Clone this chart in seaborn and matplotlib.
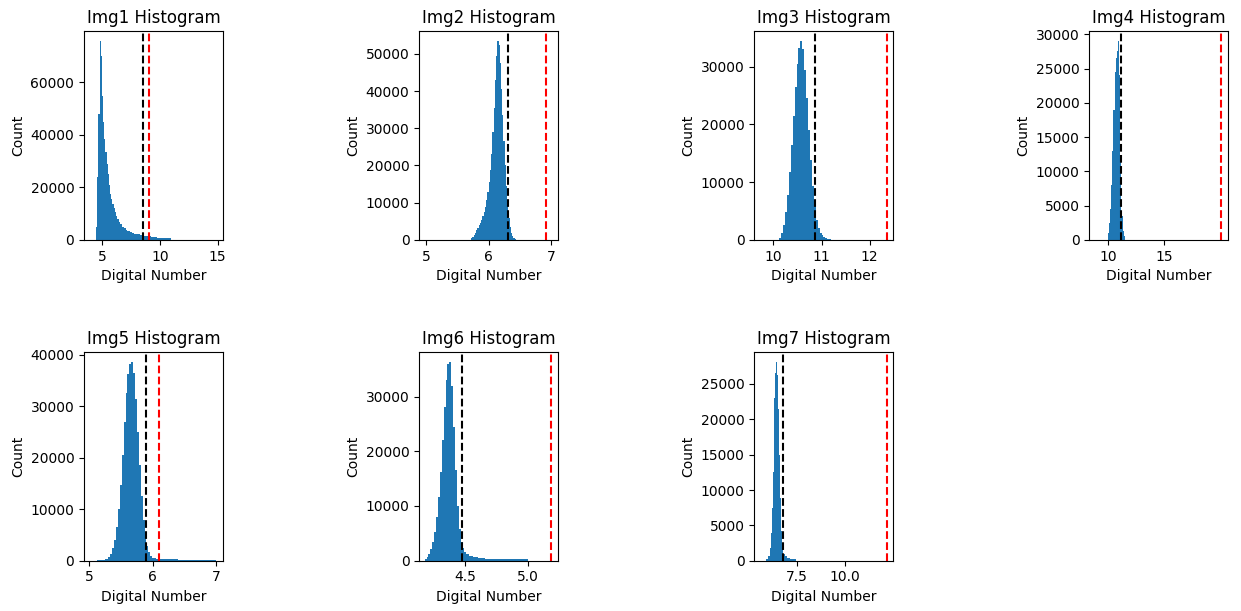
import numpy as np
import pandas as pd
import matplotlib
matplotlib.use("Agg")
import matplotlib.pyplot as plt
import seaborn as sns

# ---- histogram data: bin edges and pixel counts per image ----
img1_edges = [4.50, 4.60, 4.70, 4.80, 4.90, 5.00, 5.10, 5.20, 5.30, 5.40, 5.50,
              5.60, 5.70, 5.80, 5.90, 6.00, 6.10, 6.20, 6.30, 6.45, 6.60, 6.75,
              6.90, 7.05, 7.20, 7.40, 7.60, 7.80, 8.00, 8.30, 8.60, 8.90, 9.20,
              9.50, 9.80, 10.10, 10.40, 10.70, 11.00]
img1_counts = [5000, 24000, 48000, 75700, 70000, 55000, 45000, 38500, 33500, 29000,
               25000, 21000, 17500, 15500, 13500, 12000, 10500, 9200, 8000, 6800,
               5900, 5000, 4400, 3900, 3500, 3100, 2700, 2400, 2200, 1900,
               1650, 1400, 1200, 950, 800, 650, 600, 550]

img2_edges = [5.72, 5.74, 5.76, 5.78, 5.80, 5.82, 5.84, 5.86, 5.88, 5.90, 5.92,
              5.94, 5.96, 5.98, 6.00, 6.02, 6.04, 6.06, 6.08, 6.10, 6.12, 6.14,
              6.16, 6.18, 6.20, 6.22, 6.24, 6.26, 6.28, 6.30, 6.32, 6.34, 6.36,
              6.38, 6.40, 6.42, 6.44]
img2_counts = [400, 800, 1300, 1900, 2600, 3200, 3900, 4600, 5400, 6400,
               7500, 8900, 10600, 12800, 15500, 18800, 23000, 29000, 35500, 43000,
               49500, 53400, 52500, 47500, 40500, 33500, 26500, 20000, 14500, 9800,
               6000, 3500, 1900, 1000, 500, 200]

img3_edges = [10.12, 10.16, 10.20, 10.24, 10.28, 10.32, 10.36, 10.40, 10.44, 10.48,
              10.52, 10.56, 10.60, 10.64, 10.68, 10.72, 10.76, 10.80, 10.84, 10.88,
              10.92, 10.96, 11.00, 11.04, 11.08, 11.12, 11.16, 11.20]
img3_counts = [400, 1200, 2600, 4800, 7800, 11800, 16500, 21500, 26500, 30500,
               33300, 34400, 33000, 29500, 24500, 19000, 13800, 9300, 5800, 3500,
               2000, 1200, 800, 500, 300, 150, 80]

img4_edges = [10.0, 10.1, 10.2, 10.3, 10.4, 10.5, 10.6, 10.7, 10.8, 10.9,
              11.0, 11.1, 11.2, 11.3, 11.4, 11.5]
img4_counts = [1000, 2500, 4500, 8000, 13000, 19000, 24500, 26500, 27500, 29000,
               24000, 12000, 3500, 1300, 600]

img5_edges = [5.12, 5.24, 5.30, 5.33, 5.36, 5.39, 5.42, 5.45, 5.48, 5.51, 5.54,
              5.57, 5.60, 5.63, 5.66, 5.69, 5.72, 5.75, 5.78, 5.81, 5.84, 5.87,
              5.90, 5.93, 5.96, 5.99, 6.05, 6.15, 6.40, 6.70, 7.00]
img5_counts = [150, 350, 700, 1300, 2400, 4000, 6500, 10000, 14800, 20500,
               27000, 32500, 36300, 38300, 38600, 36500, 31500, 25000, 18500, 12500,
               8000, 5000, 2900, 1700, 1000, 600, 350, 250, 220, 200]

img6_edges = [4.180, 4.195, 4.210, 4.225, 4.240, 4.255, 4.270, 4.285, 4.300, 4.315,
              4.330, 4.345, 4.360, 4.375, 4.390, 4.405, 4.420, 4.435, 4.450, 4.465,
              4.480, 4.495, 4.510, 4.530, 4.560, 4.600, 4.660, 4.740, 4.840, 5.000]
img6_counts = [250, 600, 1200, 2100, 3400, 5300, 8000, 11600, 16300, 22000,
               28000, 33000, 36000, 36300, 32000, 24500, 16500, 10000, 5800, 3500,
               2300, 1600, 1150, 800, 620, 450, 330, 260, 240]

img7_edges = [5.90, 6.00, 6.10, 6.15, 6.20, 6.25, 6.30, 6.35, 6.40, 6.45, 6.50,
              6.55, 6.60, 6.65, 6.70, 6.75, 6.80, 6.90, 7.00, 7.15, 7.30, 7.45]
img7_counts = [250, 700, 1800, 3900, 7500, 12500, 18000, 23000, 26500, 28100,
               26300, 21500, 15000, 8800, 4200, 2000, 1000, 650, 450, 300, 180]

# reference lines (black and red dashed) per image
black_lines = [8.52, 6.315, 10.87, 11.12, 5.895, 4.478, 6.78]
red_lines = [9.07, 6.92, 12.35, 20.03, 6.105, 5.183, 12.16]

# axis ranges and tick positions per image
x_limits = [(3.45, 15.47), (4.887, 7.117), (9.604, 12.49), (8.38, 20.65),
            (4.916, 7.106), (4.136, 5.239), (5.307, 12.50)]
x_ticks = [[5, 10, 15], [5, 6, 7], [10, 11, 12], [10, 15],
           [5, 6, 7], [4.5, 5.0], [7.5, 10.0]]

titles = ["Img1 Histogram", "Img2 Histogram", "Img3 Histogram", "Img4 Histogram",
          "Img5 Histogram", "Img6 Histogram", "Img7 Histogram"]

all_edges = [img1_edges, img2_edges, img3_edges, img4_edges,
             img5_edges, img6_edges, img7_edges]
all_counts = [img1_counts, img2_counts, img3_counts, img4_counts,
              img5_counts, img6_counts, img7_counts]

fig, axes = plt.subplots(2, 4, figsize=(12.41, 6.11), dpi=100)
fig.subplots_adjust(left=0.0677, right=0.9899, top=0.9488, bottom=0.0823,
                    wspace=1.4115, hspace=0.538)

for i, ax in enumerate(axes.flat):
    if i >= len(titles):
        ax.remove()
        continue
    edges = list(all_edges[i])
    e = np.asarray(edges, dtype=float)
    mids = (e[:-1] + e[1:]) / 2
    df = pd.DataFrame({"dn": mids, "count": all_counts[i]})
    sns.histplot(data=df, x="dn", weights="count", bins=edges, ax=ax,
                 element="step", fill=True, color="#1f77b4", alpha=1.0,
                 linewidth=0)
    ax.axvline(black_lines[i], color="k", linestyle="--")
    ax.axvline(red_lines[i], color="r", linestyle="--")
    ax.set_xlim(*x_limits[i])
    ax.set_xticks(x_ticks[i])
    ax.set_title(titles[i], fontsize=12)
    ax.set_xlabel("Digital Number")
    ax.set_ylabel("Count")

fig.savefig("out.png", dpi=100)
